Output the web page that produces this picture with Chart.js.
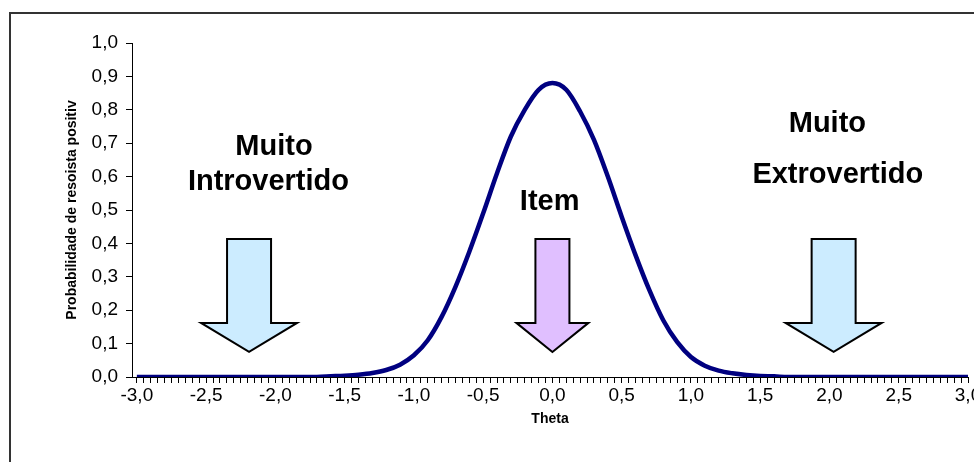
<!DOCTYPE html>
<html>
<head>
<meta charset="utf-8">
<script src="https://cdn.jsdelivr.net/npm/chart.js@4.4.1/dist/chart.umd.min.js"></script>
<style>
  html, body { margin: 0; padding: 0; background: #fff; }
  #wrap { width: 974px; height: 462px; }
</style>
</head>
<body>
<div id="wrap"><canvas id="myChart" width="974" height="462"></canvas></div>
<script>
// theta values and probability of positive response
const theta = [
  -3.0, -2.9, -2.8, -2.7, -2.6, -2.5, -2.4, -2.3, -2.2, -2.1,
  -2.0, -1.9, -1.8, -1.7, -1.6, -1.5, -1.4, -1.3, -1.2, -1.1,
  -1.0, -0.9, -0.8, -0.7, -0.6, -0.5, -0.4, -0.3, -0.2, -0.1,
  0.0, 0.1, 0.2, 0.3, 0.4, 0.5, 0.6, 0.7, 0.8, 0.9,
  1.0, 1.1, 1.2, 1.3, 1.4, 1.5, 1.6, 1.7, 1.8, 1.9,
  2.0, 2.1, 2.2, 2.3, 2.4, 2.5, 2.6, 2.7, 2.8, 2.9, 3.0,
];
const prob = [
  0, 0, 0, 0, 0, 0, 0, 0, 0, 0,
  0, 0, 0, 0, 0.002, 0.004, 0.007, 0.012, 0.021, 0.037,
  0.065, 0.11, 0.18, 0.27, 0.375, 0.49, 0.61, 0.72, 0.80, 0.86,
  0.88, 0.86, 0.795, 0.71, 0.60, 0.48, 0.365, 0.26, 0.17, 0.105,
  0.06, 0.034, 0.019, 0.011, 0.006, 0.003, 0.002, 0, 0, 0,
  0, 0, 0, 0, 0, 0, 0, 0, 0, 0, 0,
];

// arrows: centre theta, top of shaft, shoulder of head, tip (probability units)
const arrowTheta = [-2.19, 0.0, 2.03];
const arrowTop = [0.413, 0.413, 0.413];
const arrowShoulder = [0.162, 0.162, 0.162];
const arrowTip = [0.075, 0.075, 0.075];

// text annotations
const noteText = ["Muito", "Introvertido", "Item", "Muito", "Extrovertido"];
const noteTheta = [-2.01, -2.05, -0.02, 1.985, 2.06];
const noteProb = [0.665, 0.56, 0.5, 0.734, 0.581];

const comma = (v) => v.toFixed(1).replace(".", ",");

const frame = {
  id: "frame",
  beforeDraw(chart) {
    const c = chart.ctx;
    c.save();
    c.fillStyle = "#fff";
    c.fillRect(0, 0, chart.width, chart.height);
    c.strokeStyle = "#333";
    c.lineWidth = 2;
    c.strokeRect(10, 13, chart.width + 20, chart.height + 20);
    c.restore();
  },
};

const arrows = {
  id: "arrows",
  afterDatasetsDraw(chart) {
    const c = chart.ctx;
    const xs = chart.scales.x;
    const ys = chart.scales.y;
    const shaft = [22, 17, 22];
    const head = [48, 36, 48];
    const fills = ["#CCECFF", "#E0BFFF", "#CCECFF"];
    c.save();
    arrowTheta.forEach((t, i) => {
      const cx = xs.getPixelForValue(t);
      const top = ys.getPixelForValue(arrowTop[i]);
      const sh = ys.getPixelForValue(arrowShoulder[i]);
      const tip = ys.getPixelForValue(arrowTip[i]);
      c.beginPath();
      c.moveTo(cx - shaft[i], top);
      c.lineTo(cx + shaft[i], top);
      c.lineTo(cx + shaft[i], sh);
      c.lineTo(cx + head[i], sh);
      c.lineTo(cx, tip);
      c.lineTo(cx - head[i], sh);
      c.lineTo(cx - shaft[i], sh);
      c.closePath();
      c.fillStyle = fills[i];
      c.fill();
      c.lineWidth = 2;
      c.strokeStyle = "#000";
      c.lineJoin = "miter";
      c.stroke();
    });
    c.font = "bold 29px 'Liberation Sans', Arial, sans-serif";
    c.fillStyle = "#000";
    c.textAlign = "center";
    c.textBaseline = "alphabetic";
    noteText.forEach((s, i) => {
      c.fillText(s, xs.getPixelForValue(noteTheta[i]), ys.getPixelForValue(noteProb[i]));
    });
    c.restore();
  },
};

const ctx = document.getElementById("myChart").getContext("2d");
Chart.defaults.font.family = "'Liberation Sans', Arial, sans-serif";
Chart.defaults.color = "#000";

new Chart(ctx, {
  type: "line",
  data: {
    datasets: [
      {
        label: "Item",
        data: theta.map((t, i) => ({ x: t, y: prob[i] })),
        borderColor: "#000080",
        borderWidth: 4.5,
        pointRadius: 0,
        cubicInterpolationMode: "monotone",
        fill: false,
      },
    ],
  },
  options: {
    responsive: false,
    animation: false,
    layout: { padding: { left: 60, top: 43, right: 6, bottom: 30 } },
    plugins: { legend: { display: false }, tooltip: { enabled: false } },
    scales: {
      x: {
        type: "linear",
        min: -3.035,
        max: 3,
        afterBuildTicks(scale) {
          const ticks = [];
          for (let i = 0; i <= 120; i++) ticks.push({ value: Math.round((i * 0.05 - 3) * 100) / 100 });
          scale.ticks = ticks;
        },
        afterFit(scale) {
          scale.height = 55;
          scale.paddingLeft = 0;
          scale.paddingRight = 0;
        },
        ticks: {
          autoSkip: false,
          maxRotation: 0,
          padding: 1,
          font: { size: 19 },
          callback: (v) => (Math.abs(v * 2 - Math.round(v * 2)) < 1e-6 ? comma(v) : ""),
        },
        grid: { drawOnChartArea: false, tickLength: 6, color: "#000" },
        border: { color: "#000", width: 1 },
        title: { display: true, text: "Theta", font: { size: 14, weight: "bold" } },
      },
      y: {
        min: 0,
        max: 1,
        afterFit(scale) {
          scale.width = 72;
        },
        ticks: { stepSize: 0.1, padding: 8, font: { size: 19 }, callback: (v) => comma(v) },
        grid: { drawOnChartArea: false, tickLength: 6, color: "#000" },
        border: { color: "#000", width: 1 },
        title: {
          display: true,
          text: "Probabilidade de resoista positiv",
          font: { size: 14, weight: "bold" },
        },
      },
    },
  },
  plugins: [frame, arrows],
});
</script>
</body>
</html>
